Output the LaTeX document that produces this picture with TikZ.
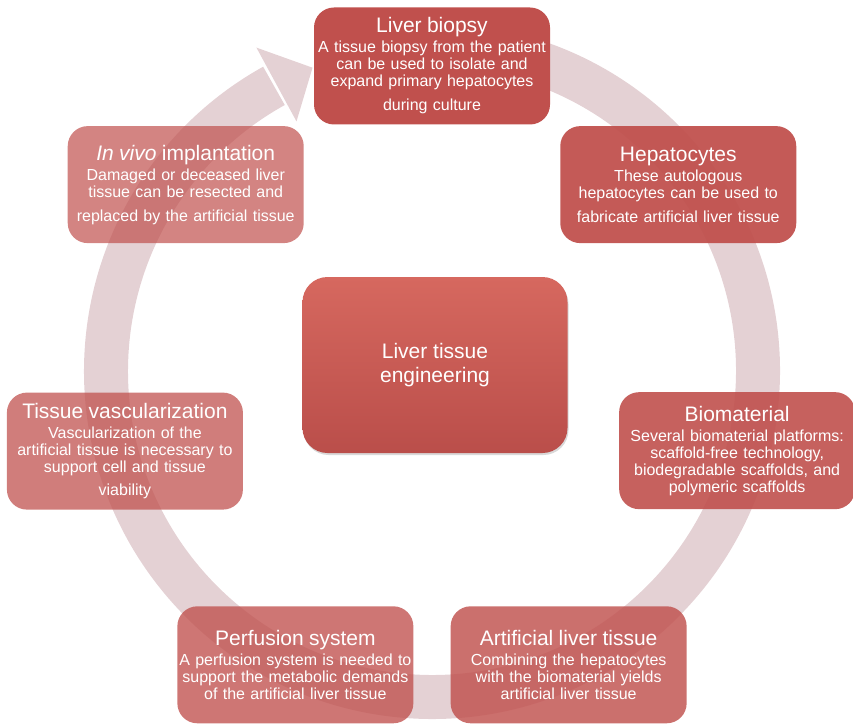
\documentclass[tikz,border=0pt]{standalone}
\usepackage{fontspec}
\setmainfont{Liberation Sans}
\usetikzlibrary{positioning, shadows}
\definecolor{liverred}{RGB}{192,80,77}
\definecolor{hubtop}{RGB}{214,104,95}
\definecolor{hubbottom}{RGB}{186,78,74}
\definecolor{ringgray}{RGB}{228,209,212}
\newcommand{\stagetitle}{\fontsize{21}{24}\selectfont}

\begin{document}
\begin{tikzpicture}[x=1pt, y=1pt]
    % Styles
    \tikzstyle{stage} = [rectangle, fill=liverred, text=white, text opacity=1, rounded corners=20pt, minimum width=236pt, minimum height=117pt, text width=234pt, inner sep=1pt, align=center, font=\fontsize{16}{17}\selectfont]
    \tikzstyle{hubbox} = [rectangle, top color=hubtop, bottom color=hubbottom, text=white, rounded corners=25pt, minimum width=265pt, minimum height=176pt, align=center, font=\stagetitle, drop shadow={opacity=0.3, shadow xshift=1pt, shadow yshift=-2pt}]
    \tikzstyle{ring} = [draw=ringgray, line width=44pt]

    \useasboundingbox (0,0) rectangle (853,724);

    % Centres
    \coordinate (hub) at (432,343);
    \coordinate (ringc) at (432,353);

    % Cycle arrow
    \draw[ring] ([shift={(85:326)}]ringc) arc[start angle=85, end angle=-241, radius=326];
    \fill[ringgray] ([shift={(118.5:368)}]ringc) -- ([shift={(111.5:326)}]ringc) -- ([shift={(118.5:284)}]ringc) -- cycle;

    % Centre
    \node[hubbox] (engineering) at (435,359) {Liver tissue\\engineering};

    % Stages
    \node[stage] (biopsy) at ([shift={(90:315)}]hub) {{\stagetitle Liver biopsy}\\[3pt]A tissue biopsy from the patient\\can be used to isolate and\\expand primary hepatocytes\\[7pt]during culture};
    \node[stage, fill opacity=0.94] (hepatocytes) at ([shift={(38.57:315)}]hub) {{\stagetitle Hepatocytes}\\[3pt]These autologous\\hepatocytes can be used to\\[7pt]fabricate artificial liver tissue};
    \node[stage, fill opacity=0.9] (biomaterial) at ([shift={(-12.86:313)}]hub) {{\stagetitle Biomaterial}\\[3pt]Several biomaterial platforms:\\scaffold-free technology,\\biodegradable scaffolds, and\\polymeric scaffolds};
    \node[stage, fill opacity=0.82] (artificial) at ([shift={(-64.29:315)}]hub) {{\stagetitle Artificial liver tissue}\\[3pt]Combining the hepatocytes\\with the biomaterial yields\\artificial liver tissue};
    \node[stage, fill opacity=0.78] (perfusion) at ([shift={(-115.71:315)}]hub) {{\stagetitle Perfusion system}\\[3pt]A perfusion system is needed to\\support the metabolic demands\\of the artificial liver tissue};
    \node[stage, fill opacity=0.74] (vascular) at ([shift={(-167.14:315)}]hub) {{\stagetitle Tissue vascularization}\\[3pt]Vascularization of the\\artificial tissue is necessary to\\support cell and tissue\\[6pt]viability};
    \node[stage, fill opacity=0.7] (implant) at ([shift={(141.43:315)}]hub) {{\stagetitle \textit{In vivo} implantation}\\[3pt]Damaged or deceased liver\\tissue can be resected and\\[7pt]replaced by the artificial tissue};
\end{tikzpicture}
\end{document}
